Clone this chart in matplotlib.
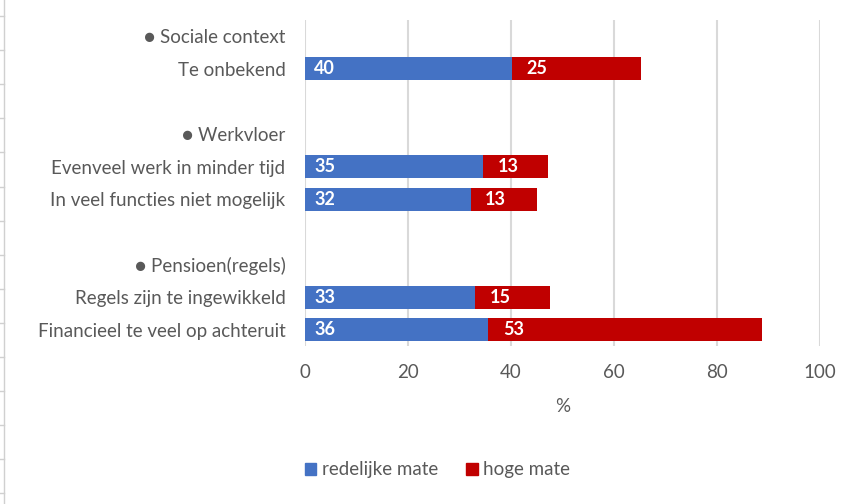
import matplotlib.pyplot as plt
from matplotlib.lines import Line2D
from matplotlib.patches import Patch

# rows from top to bottom; '' rows are spacers
labels = ['\u25cf Sociale context', 'Te onbekend', '',
          '\u25cf Werkvloer', 'Evenveel werk in minder tijd',
          'In veel functies niet mogelijk', '',
          '\u25cf Pensioen(regels)', 'Regels zijn te ingewikkeld',
          'Financieel te veel op achteruit']
redelijk = [None, 40.2, None, None, 34.6, 32.2, None, None, 33.0, 35.6]
hoog = [None, 25.0, None, None, 12.6, 12.8, None, None, 14.6, 53.2]
xticks = [0, 20, 40, 60, 80, 100]

blue = '#4472c4'
red = '#c00000'
grey = '#595959'

plt.rcParams['font.family'] = ['Lato', 'DejaVu Sans']

fig = plt.figure(figsize=(8.58, 5.04), dpi=100)
ax = fig.add_axes([305 / 858, 1 - 346 / 504, 515 / 858, 326 / 504])

n = len(labels)
ys = list(range(n))
for y, b, r in zip(ys, redelijk, hoog):
    if b is None:
        continue
    ax.barh(y, b, height=0.7, color=blue, zorder=3)
    ax.barh(y, r, left=b, height=0.7, color=red, zorder=3)
    ax.text(1.8, y, '%.0f' % b, color='white', fontsize=13, fontweight='bold',
            va='center', ha='left', zorder=4)
    ax.text(b + 2.8, y, '%.0f' % r, color='white', fontsize=13, fontweight='bold',
            va='center', ha='left', zorder=4)

ax.set_ylim(n - 0.5, -0.5)
ax.set_xlim(0, 100)
ax.set_yticks(ys)
ax.set_yticklabels(labels, fontsize=13.5, color=grey)
ax.set_xticks(xticks)
ax.set_xticklabels([str(t) for t in xticks], fontsize=13.5, color=grey)
ax.tick_params(length=0, pad=13, axis='x')
ax.tick_params(length=0, pad=14, axis='y')
ax.grid(axis='x', color='#d9d9d9', linewidth=1.5, zorder=0)
for s in ax.spines.values():
    s.set_visible(False)
ax.set_xlabel('%', fontsize=13.5, color=grey, labelpad=12)

handles = [Patch(color=blue, label='redelijke mate'),
           Patch(color=red, label='hoge mate')]
leg = fig.legend(handles=handles, loc='center', bbox_to_anchor=(0.51, 1 - 470 / 504),
                 ncol=2, frameon=False, fontsize=13.5, handlelength=0.6,
                 handleheight=0.6, handletextpad=0.3, columnspacing=1.5)
for t in leg.get_texts():
    t.set_color(grey)

# spreadsheet gridlines peeking in at the left edge
fig.add_artist(Line2D([3.5 / 858, 3.5 / 858], [0, 1], color='#d0d0d0', linewidth=1))
for k in range(15):
    yy = 1 - (16 + 34.1 * k) / 504
    fig.add_artist(Line2D([0, 3.5 / 858], [yy, yy], color='#d0d0d0', linewidth=1))

fig.savefig('out.png', dpi=100)
